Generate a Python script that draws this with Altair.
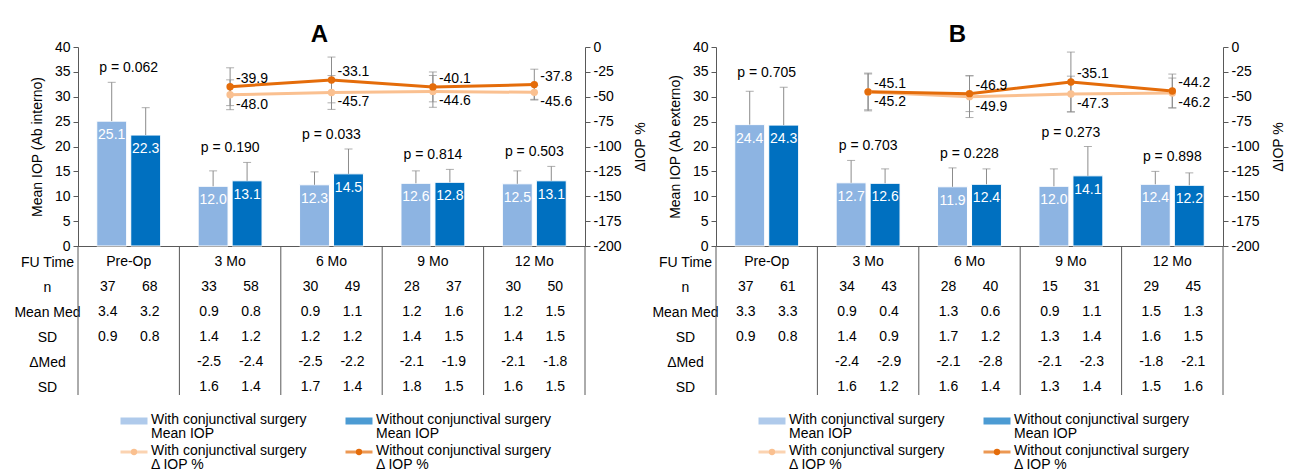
import altair as alt
import pandas as pd

FONT = "Liberation Sans"
BLUE_L, BLUE_D = "#8DB4E2", "#0070C0"
OR_L, OR_D = "#FAC090", "#E46C0A"
GREY, AX = "#8C8C8C", "#595959"
W, H = 507, 199
TAB_H, LEG_H = 149, 60

groups = ["Pre-Op", "3 Mo", "6 Mo", "9 Mo", "12 Mo"]
series = ["With", "Without"]
rows = ["FU Time", "n", "Mean Med", "SD", "ΔMed", "SD2"]

# ---------------- Panel A (Ab interno) ----------------
a_mean_with = [25.1, 12.0, 12.3, 12.6, 12.5]
a_mean_without = [22.3, 13.1, 14.5, 12.8, 13.1]
a_sd_with = [7.8, 3.1, 2.6, 2.5, 2.6]
a_sd_without = [5.5, 3.7, 5.0, 2.6, 2.9]
a_p = ["0.062", "0.190", "0.033", "0.814", "0.503"]
a_delta_with = [None, -48.0, -45.7, -44.6, -45.6]
a_delta_without = [None, -39.9, -33.1, -40.1, -37.8]
a_dsd_with = [None, 15, 17, 16, 7]
a_dsd_without = [None, 19, 23, 15, 15.5]
a_n_with = [37, 33, 30, 28, 30]
a_n_without = [68, 58, 49, 37, 50]
a_med_with = [3.4, 0.9, 0.9, 1.2, 1.2]
a_med_without = [3.2, 0.8, 1.1, 1.6, 1.5]
a_medsd_with = [0.9, 1.4, 1.2, 1.4, 1.4]
a_medsd_without = [0.8, 1.2, 1.2, 1.5, 1.5]
a_dmed_with = [None, -2.5, -2.5, -2.1, -2.1]
a_dmed_without = [None, -2.4, -2.2, -1.9, -1.8]
a_dmedsd_with = [None, 1.6, 1.7, 1.8, 1.6]
a_dmedsd_without = [None, 1.4, 1.4, 1.5, 1.5]

# ---------------- Panel B (Ab externo) ----------------
b_mean_with = [24.4, 12.7, 11.9, 12.0, 12.4]
b_mean_without = [24.3, 12.6, 12.4, 14.1, 12.2]
b_sd_with = [6.7, 4.5, 3.8, 3.5, 2.6]
b_sd_without = [7.6, 2.9, 3.1, 5.9, 2.5]
b_p = ["0.705", "0.703", "0.228", "0.273", "0.898"]
b_delta_with = [None, -45.2, -49.9, -47.3, -46.2]
b_delta_without = [None, -45.1, -46.9, -35.1, -44.2]
b_dsd_with = [None, 19, 21, 18, 15]
b_dsd_without = [None, 18, 18, 30, 17]
b_n_with = [37, 34, 28, 15, 29]
b_n_without = [61, 43, 40, 31, 45]
b_med_with = [3.3, 0.9, 1.3, 0.9, 1.5]
b_med_without = [3.3, 0.4, 0.6, 1.1, 1.3]
b_medsd_with = [0.9, 1.4, 1.7, 1.3, 1.6]
b_medsd_without = [0.8, 0.9, 1.2, 1.4, 1.5]
b_dmed_with = [None, -2.4, -2.1, -2.1, -1.8]
b_dmed_without = [None, -2.9, -2.8, -2.3, -2.1]
b_dmedsd_with = [None, 1.6, 1.6, 1.3, 1.5]
b_dmedsd_without = [None, 1.2, 1.4, 1.4, 1.6]

legend_labels = [
    "With conjunctival surgery\nMean IOP",
    "Without conjunctival surgery\nMean IOP",
    "With conjunctival surgery\nΔ IOP %",
    "Without conjunctival surgery\nΔ IOP %",
]


def panel(letter, ytitle, mean_w, mean_wo, sd_w, sd_wo, pvals,
          dl_w, dl_wo, dsd_w, dsd_wo, tab_w, tab_wo):
    # ---- bars
    bars_df = pd.DataFrame({
        "group": groups * 2,
        "Series": ["With"] * 5 + ["Without"] * 5,
        "mean": mean_w + mean_wo,
        "sd": sd_w + sd_wo,
    })
    bars_df["top"] = bars_df["mean"] + bars_df["sd"]
    bars_df["label"] = bars_df["mean"].map(lambda v: f"{v:.1f}")
    p_df = pd.DataFrame({
        "group": groups,
        "ptop": [max(a + b, c + d) for a, b, c, d in zip(mean_w, sd_w, mean_wo, sd_wo)],
        "ptext": ["p = " + p for p in pvals],
    })
    # ---- lines
    lrows = []
    for s, dl, dsd in (("With", dl_w, dsd_w), ("Without", dl_wo, dsd_wo)):
        for i, (g, v, e) in enumerate(zip(groups, dl, dsd)):
            if v is None:
                continue
            lrows.append({"group": g, "idx": i, "LineSeries": s, "delta": v,
                          "lo": v - e, "hi": v + e, "label": f"{v:.1f}"})
    lines_df = pd.DataFrame(lrows)

    xsc = alt.Scale(type="band", domain=groups, paddingInner=0.37, paddingOuter=0.185)
    X = alt.X("group:N", scale=xsc, sort=groups,
              axis=alt.Axis(labels=False, ticks=False, title=None, domainColor=AX))
    XO = alt.XOffset("Series:N", scale=alt.Scale(type="band", domain=series, paddingInner=0.12),
                     sort=series)
    ysl = alt.Scale(domain=[0, 40], nice=False)
    axL = alt.Axis(values=list(range(0, 41, 5)), title=ytitle, titlePadding=10)

    bcol = alt.Color("Series:N", scale=alt.Scale(domain=series, range=[BLUE_L, BLUE_D]), legend=None)
    bb = alt.Chart(bars_df)
    bar = bb.mark_bar(stroke="white", strokeWidth=1).encode(
        x=X, xOffset=XO, y=alt.Y("mean:Q", scale=ysl, axis=axL), color=bcol)
    err = bb.mark_rule(color=GREY, strokeWidth=1).encode(
        x=X, xOffset=XO, y=alt.Y("mean:Q", scale=ysl, axis=axL), y2="top:Q")
    cap = bb.mark_tick(orient="horizontal", size=8, thickness=1, color=GREY).encode(
        x=X, xOffset=XO, y=alt.Y("top:Q", scale=ysl, axis=axL))
    vlab = bb.mark_text(color="white", fontSize=14, baseline="middle", dy=14).encode(
        x=X, xOffset=XO, y=alt.Y("mean:Q", scale=ysl, axis=axL), text="label:N")
    plab = alt.Chart(p_df).mark_text(fontSize=14, baseline="alphabetic", dy=-10).encode(
        x=X, y=alt.Y("ptop:Q", scale=ysl, axis=axL), text="ptext:N")
    left = alt.layer(bar, err, cap, vlab, plab)

    ysr = alt.Scale(domain=[-200, 0], nice=False, zero=False)
    axR = alt.Axis(orient="right", values=list(range(-200, 1, 25)), title="ΔIOP %",
                   titleAngle=270, titleBaseline="top", titlePadding=12,
                   labelExpr="'' + datum.value")
    lcol = alt.Color("LineSeries:N", scale=alt.Scale(domain=series, range=[OR_L, OR_D]), legend=None)
    lb = alt.Chart(lines_df)
    lerr = lb.mark_rule(color=GREY, strokeWidth=1).encode(
        x=X, y=alt.Y("lo:Q", scale=ysr, axis=axR), y2="hi:Q")
    lcap1 = lb.mark_tick(orient="horizontal", size=8, thickness=1, color=GREY).encode(
        x=X, y=alt.Y("lo:Q", scale=ysr, axis=axR))
    lcap2 = lb.mark_tick(orient="horizontal", size=8, thickness=1, color=GREY).encode(
        x=X, y=alt.Y("hi:Q", scale=ysr, axis=axR))
    line = lb.mark_line(strokeWidth=3).encode(
        x=X, y=alt.Y("delta:Q", scale=ysr, axis=axR), color=lcol, order="idx:Q")
    pts = lb.mark_circle(size=55, opacity=1).encode(
        x=X, y=alt.Y("delta:Q", scale=ysr, axis=axR), color=lcol)
    lab_wo = lb.transform_filter("datum.LineSeries == 'Without'").mark_text(
        fontSize=14, align="left", baseline="middle", dx=6, dy=-8).encode(
        x=X, y=alt.Y("delta:Q", scale=ysr, axis=axR), text="label:N")
    lab_w = lb.transform_filter("datum.LineSeries == 'With'").mark_text(
        fontSize=14, align="left", baseline="middle", dx=6, dy=10).encode(
        x=X, y=alt.Y("delta:Q", scale=ysr, axis=axR), text="label:N")
    right = alt.layer(lerr, lcap1, lcap2, line, pts, lab_wo, lab_w)

    top = alt.layer(left, right).resolve_scale(y="independent", color="independent").properties(
        width=W, height=H,
        title=alt.Title(letter, fontSize=24, fontWeight="bold", font=FONT, color="black",
                        anchor="middle", dx=-12, offset=-7))

    # ---- table
    trows = []
    for s, vals in (("With", tab_w), ("Without", tab_wo)):
        for rkey, arr in zip(rows[1:], vals):
            for g, v in zip(groups, arr):
                if v is None:
                    continue
                trows.append({"group": g, "TSeries": s, "row": rkey,
                              "text": str(v) if rkey == "n" else f"{v:.1f}"})
    tab_df = pd.DataFrame(trows)
    head_df = pd.DataFrame({"group": groups, "row": ["FU Time"] * len(groups)})

    xst = alt.Scale(type="band", domain=groups, paddingInner=0, paddingOuter=0)
    Xt = alt.X("group:N", scale=xst, sort=groups, axis=None)
    yst = alt.Scale(type="point", domain=rows, padding=0.473, align=0.68)
    axT = alt.Axis(title=None, ticks=False, tickSize=0, domain=False, labelAlign="center",
                   labelPadding=31, labelBaseline="middle",
                   labelExpr="datum.value == 'SD2' ? 'SD' : datum.value")
    Yt = alt.Y("row:N", scale=yst, sort=rows, axis=axT)
    sep = alt.Chart(pd.DataFrame({"group": groups})).mark_rule(color=AX, strokeWidth=1).encode(
        x=alt.X("group:N", scale=xst, sort=groups, axis=None, bandPosition=0))
    edge = alt.Chart(pd.DataFrame({"group": groups[-1:]})).mark_rule(color=AX, strokeWidth=1).encode(
        x=alt.X("group:N", scale=xst, sort=groups, axis=None, bandPosition=1))
    head = alt.Chart(head_df).mark_text(fontSize=14).encode(x=Xt, y=Yt, text="group:N")
    vals = alt.Chart(tab_df).mark_text(fontSize=14).encode(
        x=Xt,
        xOffset=alt.XOffset("TSeries:N",
                            scale=alt.Scale(type="band", domain=series, paddingInner=0, paddingOuter=0.207),
                            sort=series),
        y=Yt, text="text:N")
    table = alt.layer(sep, edge, head, vals).properties(width=W, height=TAB_H)

    # ---- legend
    leg_df = pd.DataFrame({
        "col": series * 2,
        "kind": ["bar", "bar", "line", "line"],
        "LegendKey": ["With bar", "Without bar", "With line", "Without line"],
        "label": legend_labels,
    })
    Xg = alt.X("col:N", scale=alt.Scale(type="point", domain=series, range=[56, 281], padding=0), axis=None)
    Yg = alt.Y("kind:N", scale=alt.Scale(type="point", domain=["bar", "line"], range=[26, 57], padding=0), axis=None)
    gcol = alt.Color("LegendKey:N", scale=alt.Scale(domain=["With bar", "Without bar", "With line", "Without line"],
                                                    range=[BLUE_L, BLUE_D, OR_L, OR_D]), legend=None)
    lg = alt.Chart(leg_df)
    sw_bar = lg.transform_filter("datum.kind == 'bar'").mark_tick(
        orient="horizontal", size=27, thickness=7).encode(x=Xg, y=Yg, color=gcol)
    sw_line = lg.transform_filter("datum.kind == 'line'").mark_tick(
        orient="horizontal", size=27, thickness=3).encode(x=Xg, y=Yg, color=gcol)
    sw_pt = lg.transform_filter("datum.kind == 'line'").mark_circle(size=40, opacity=1).encode(
        x=Xg, y=Yg, color=gcol)
    sw_txt = lg.mark_text(align="left", baseline="top", dx=17, dy=-8, lineBreak="\n",
                          lineHeight=14, fontSize=14).encode(x=Xg, y=Yg, text="label:N")
    legend = alt.layer(sw_bar, sw_line, sw_pt, sw_txt).properties(width=W, height=LEG_H)

    return alt.vconcat(top, table, legend, spacing=0, bounds="flush").resolve_scale(
        x="independent", y="independent", color="independent", xOffset="independent")


pa = panel("A", "Mean IOP (Ab interno)", a_mean_with, a_mean_without, a_sd_with, a_sd_without, a_p,
           a_delta_with, a_delta_without, a_dsd_with, a_dsd_without,
           [a_n_with, a_med_with, a_medsd_with, a_dmed_with, a_dmedsd_with],
           [a_n_without, a_med_without, a_medsd_without, a_dmed_without, a_dmedsd_without])
pb = panel("B", "Mean IOP (Ab externo)", b_mean_with, b_mean_without, b_sd_with, b_sd_without, b_p,
           b_delta_with, b_delta_without, b_dsd_with, b_dsd_without,
           [b_n_with, b_med_with, b_medsd_with, b_dmed_with, b_dmedsd_with],
           [b_n_without, b_med_without, b_medsd_without, b_dmed_without, b_dmedsd_without])

chart = (
    alt.hconcat(pa, pb, spacing=3)
    .resolve_scale(x="independent", y="independent", color="independent")
    .properties(padding={"left": 5, "top": 15, "right": 0, "bottom": 0})
    .configure(font=FONT)
    .configure_view(stroke=None)
    .configure_axis(labelFont=FONT, labelFontSize=14, labelColor="black", titleFont=FONT,
                    titleFontSize=14, titleFontWeight="normal", titleColor="black",
                    tickColor=AX, domainColor=AX, tickSize=5, labelPadding=3, grid=False)
    .configure_text(font=FONT, color="black")
)

chart.save("out.html", embed_options={"renderer": "svg", "actions": False})
